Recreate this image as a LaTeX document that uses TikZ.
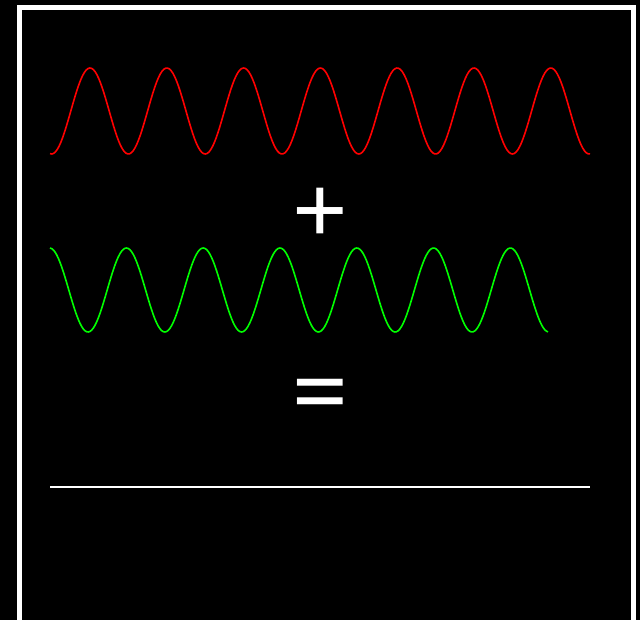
\documentclass[tikz,border=0pt]{standalone}
\usepackage{fontspec}
\setmainfont{TeX Gyre Heros}
\definecolor{wavered}{RGB}{255,0,0}
\definecolor{wavegreen}{RGB}{0,255,0}
\tikzset{
  wave/.style={line width=1.6pt, line join=round},
  sign/.style={text=white, font=\fontsize{102}{102}\selectfont, inner sep=0pt, anchor=base}
}
\begin{document}
\begin{tikzpicture}[x=1pt,y=-1pt]
\useasboundingbox (0,0) rectangle (640,620);
\fill[black] (0,0) rectangle (640,620);
\begin{scope}
\clip (0,0) rectangle (640,620);
\draw[white,line width=5pt] (19.5,7.5) rectangle (633,622);
\end{scope}
% red wave
\draw[wave, wavered] plot[domain=50:590, samples=300] (\x, {111 - 43*cos(4.6875*(\x-90))});
% plus
\node[sign] (plus) at (320,236.3) {+};
% green wave
\draw[wave, wavegreen] plot[domain=50:548, samples=300] (\x, {290 - 42*cos(4.6875*(\x-49.6))});
% equals
\node[sign] (eq) at (320,417.7) {=};
% result line
\coordinate (ls) at (50,487);
\coordinate (le) at (590,487);
\draw[white, line width=1.6pt] (ls) -- (le);
\end{tikzpicture}
\end{document}
